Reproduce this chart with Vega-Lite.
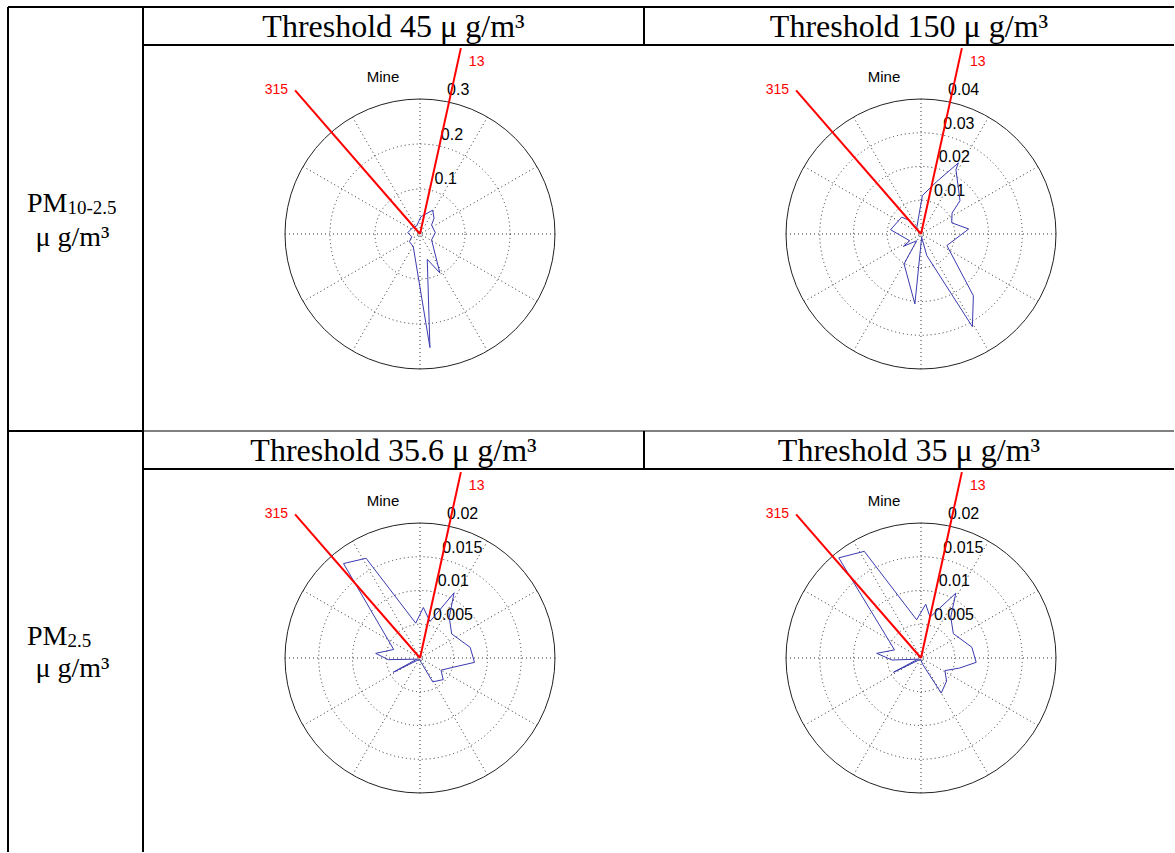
{
"$schema": "https://vega.github.io/schema/vega-lite/v6.json",
"padding": {"left": 7, "top": 6, "right": 0, "bottom": 0},
"background": "white",
"config": {"view": {"stroke": null}},
"datasets": {
"spokes": [{"a":0},{"a":30},{"a":60},{"a":90},{"a":120},{"a":150},{"a":180},{"a":210},{"a":240},{"a":270},{"a":300},{"a":330}],
"dirs": [{"lbl":"13","a":12.4},{"lbl":"315","a":-41}],
"rings": [
{"p":"A1","v":0.1},{"p":"A1","v":0.2},{"p":"A1","v":0.3},
{"p":"B1","v":0.01},{"p":"B1","v":0.02},{"p":"B1","v":0.03},{"p":"B1","v":0.04},
{"p":"A2","v":0.005},{"p":"A2","v":0.01},{"p":"A2","v":0.015},{"p":"A2","v":0.02},
{"p":"B2","v":0.005},{"p":"B2","v":0.01},{"p":"B2","v":0.015},{"p":"B2","v":0.02}
],
"curves": [
{"p":"A1","i":1,"a":3,"v":0.0385},{"p":"A1","i":2,"a":28,"v":0.06},{"p":"A1","i":3,"a":42,"v":0.0467},{"p":"A1","i":4,"a":52,"v":0.0326},{"p":"A1","i":5,"a":85,"v":0.0341},{"p":"A1","i":6,"a":117,"v":0.0289},{"p":"A1","i":7,"a":153,"v":0.097},{"p":"A1","i":8,"a":164,"v":0.0585},{"p":"A1","i":9,"a":175,"v":0.2533},{"p":"A1","i":10,"a":208,"v":0.0319},{"p":"A1","i":11,"a":234,"v":0.0289},{"p":"A1","i":12,"a":252,"v":0.0193},{"p":"A1","i":13,"a":276,"v":0.0274},{"p":"A1","i":14,"a":304,"v":0.0222},{"p":"A1","i":15,"a":337,"v":0.0193},{"p":"A1","i":16,"a":3,"v":0.0385},
{"p":"B1","i":1,"a":2,"v":0.0114},{"p":"B1","i":2,"a":16.7,"v":0.0162},{"p":"B1","i":3,"a":27.7,"v":0.0238},{"p":"B1","i":4,"a":28.5,"v":0.0217},{"p":"B1","i":5,"a":49.5,"v":0.0152},{"p":"B1","i":6,"a":56,"v":0.0111},{"p":"B1","i":7,"a":70,"v":0.0097},{"p":"B1","i":8,"a":84,"v":0.0142},{"p":"B1","i":9,"a":114,"v":0.0084},{"p":"B1","i":10,"a":139.7,"v":0.024},{"p":"B1","i":11,"a":151,"v":0.0314},{"p":"B1","i":12,"a":165,"v":0.0066},{"p":"B1","i":13,"a":169,"v":0.001},{"p":"B1","i":14,"a":185,"v":0.0208},{"p":"B1","i":15,"a":209.5,"v":0.0102},{"p":"B1","i":16,"a":213,"v":0.0024},{"p":"B1","i":17,"a":235,"v":0.0064},{"p":"B1","i":18,"a":239,"v":0.0039},{"p":"B1","i":19,"a":278,"v":0.0091},{"p":"B1","i":20,"a":311,"v":0.0076},{"p":"B1","i":21,"a":318,"v":0.0056},{"p":"B1","i":22,"a":319,"v":0.002},{"p":"B1","i":23,"a":2,"v":0.0114},
{"p":"A2","i":1,"a":353,"v":0.0052},{"p":"A2","i":2,"a":3.8,"v":0.0075},{"p":"A2","i":3,"a":15.3,"v":0.0056},{"p":"A2","i":4,"a":27.6,"v":0.0109},{"p":"A2","i":5,"a":35.8,"v":0.0074},{"p":"A2","i":6,"a":52.8,"v":0.0059},{"p":"A2","i":7,"a":78,"v":0.0076},{"p":"A2","i":8,"a":94.6,"v":0.0081},{"p":"A2","i":9,"a":105,"v":0.0052},{"p":"A2","i":10,"a":120,"v":0.0036},{"p":"A2","i":11,"a":133,"v":0.0047},{"p":"A2","i":12,"a":152,"v":0.004},{"p":"A2","i":13,"a":165,"v":0.0007},{"p":"A2","i":14,"a":200,"v":0.0002},{"p":"A2","i":15,"a":242,"v":0.0045},{"p":"A2","i":16,"a":250,"v":0.0005},{"p":"A2","i":17,"a":267,"v":0.0047},{"p":"A2","i":18,"a":276,"v":0.0066},{"p":"A2","i":19,"a":288,"v":0.0041},{"p":"A2","i":20,"a":321,"v":0.018},{"p":"A2","i":21,"a":331.6,"v":0.0168},{"p":"A2","i":22,"a":353,"v":0.0052},
{"p":"B2","i":1,"a":353.5,"v":0.0057},{"p":"B2","i":2,"a":5,"v":0.008},{"p":"B2","i":3,"a":12.5,"v":0.0062},{"p":"B2","i":4,"a":28.2,"v":0.0109},{"p":"B2","i":5,"a":36,"v":0.0075},{"p":"B2","i":6,"a":53,"v":0.006},{"p":"B2","i":7,"a":78,"v":0.0077},{"p":"B2","i":8,"a":94.5,"v":0.0082},{"p":"B2","i":9,"a":104.6,"v":0.0059},{"p":"B2","i":10,"a":117.8,"v":0.004},{"p":"B2","i":11,"a":132,"v":0.0051},{"p":"B2","i":12,"a":150,"v":0.006},{"p":"B2","i":13,"a":165,"v":0.001},{"p":"B2","i":14,"a":200,"v":0.0002},{"p":"B2","i":15,"a":242.6,"v":0.0046},{"p":"B2","i":16,"a":250,"v":0.0005},{"p":"B2","i":17,"a":266,"v":0.0043},{"p":"B2","i":18,"a":276,"v":0.0066},{"p":"B2","i":19,"a":287,"v":0.0041},{"p":"B2","i":20,"a":320.6,"v":0.0192},{"p":"B2","i":21,"a":332,"v":0.0179},{"p":"B2","i":22,"a":353.5,"v":0.0057}
]
},
"columns": 3,
"spacing": 0,
"bounds": "flush",
"align": "each",
"concat": [
{"width": 135, "height": 38,
 "layer": [
  {"data": {"values": [{}]}, "mark": {"type": "rule", "color": "black", "strokeWidth": 2}, "encoding": {"x": {"datum": 0, "type": "quantitative", "scale": {"domain": [0, 1], "nice": false}, "axis": null}}},
  {"data": {"values": [{}]}, "mark": {"type": "rule", "color": "black", "strokeWidth": 2}, "encoding": {"x": {"datum": 1, "type": "quantitative", "scale": {"domain": [0, 1], "nice": false}, "axis": null}}},
  {"data": {"values": [{}]}, "mark": {"type": "rule", "color": "black", "strokeWidth": 2}, "encoding": {"y": {"datum": 1, "type": "quantitative", "scale": {"domain": [0, 1], "nice": false}, "axis": null}}}
 ]},
{"width": 501, "height": 38,
 "layer": [
  {"data": {"values": [{"t": "Threshold 45 μ g/m³"}]}, "mark": {"type": "text", "font": "Liberation Serif", "fontSize": 32, "baseline": "alphabetic", "dy": 10.5, "color": "black"}, "encoding": {"text": {"field": "t", "type": "nominal"}}},
  {"data": {"values": [{}]}, "mark": {"type": "rule", "color": "black", "strokeWidth": 2}, "encoding": {"y": {"datum": 1, "type": "quantitative", "scale": {"domain": [0, 1], "nice": false}, "axis": null}}},
  {"data": {"values": [{}]}, "mark": {"type": "rule", "color": "black", "strokeWidth": 2}, "encoding": {"y": {"datum": 0, "type": "quantitative", "scale": {"domain": [0, 1], "nice": false}, "axis": null}}},
  {"data": {"values": [{}]}, "mark": {"type": "rule", "color": "black", "strokeWidth": 2}, "encoding": {"x": {"datum": 1, "type": "quantitative", "scale": {"domain": [0, 1], "nice": false}, "axis": null}}}
 ]},
{"width": 530, "height": 38,
 "layer": [
  {"data": {"values": [{"t": "Threshold 150 μ g/m³"}]}, "mark": {"type": "text", "font": "Liberation Serif", "fontSize": 32, "baseline": "alphabetic", "dy": 10.5, "color": "black"}, "encoding": {"text": {"field": "t", "type": "nominal"}}},
  {"data": {"values": [{}]}, "mark": {"type": "rule", "color": "black", "strokeWidth": 2}, "encoding": {"y": {"datum": 1, "type": "quantitative", "scale": {"domain": [0, 1], "nice": false}, "axis": null}}},
  {"data": {"values": [{}]}, "mark": {"type": "rule", "color": "black", "strokeWidth": 2}, "encoding": {"y": {"datum": 0, "type": "quantitative", "scale": {"domain": [0, 1], "nice": false}, "axis": null}}}
 ]},
{"width": 135, "height": 386,
 "layer": [
  {"data": {"values": [{}]}, "mark": {"type": "rule", "color": "black", "strokeWidth": 2}, "encoding": {"x": {"datum": 0, "type": "quantitative", "scale": {"domain": [0, 1], "nice": false}, "axis": null}}},
  {"data": {"values": [{}]}, "mark": {"type": "rule", "color": "black", "strokeWidth": 2}, "encoding": {"x": {"datum": 1, "type": "quantitative", "scale": {"domain": [0, 1], "nice": false}, "axis": null}}},
  {"data": {"values": [{"t": "PM"}]}, "mark": {"type": "text", "font": "Liberation Serif", "fontSize": 28, "align": "right", "baseline": "alphabetic", "dx": -8, "dy": -26, "color": "black"}, "encoding": {"text": {"field": "t", "type": "nominal"}}},
  {"data": {"values": [{"t": "10-2.5"}]}, "mark": {"type": "text", "font": "Liberation Serif", "fontSize": 19, "align": "left", "baseline": "alphabetic", "dx": -8, "dy": -24, "color": "black"}, "encoding": {"text": {"field": "t", "type": "nominal"}}},
  {"data": {"values": [{"t": "μ g/m³"}]}, "mark": {"type": "text", "font": "Liberation Serif", "fontSize": 28, "align": "center", "baseline": "alphabetic", "dx": -3, "dy": 8, "color": "black"}, "encoding": {"text": {"field": "t", "type": "nominal"}}}
 ]},
{"width": 501, "height": 386,
 "layer": [
  {"data": {"name": "spokes"}, "transform": [{"calculate": "sin(datum.a*PI/180)", "as": "sx"}, {"calculate": "cos(datum.a*PI/180)", "as": "sy"}],
   "mark": {"type": "rule", "color": "#333333", "strokeWidth": 1, "strokeDash": [1, 3]},
   "encoding": {"x": {"field": "sx", "type": "quantitative", "scale": {"domain": [-2.0519, 1.6593], "nice": false, "zero": false}, "axis": null}, "y": {"field": "sy", "type": "quantitative", "scale": {"domain": [-1.4593, 1.4], "nice": false, "zero": false}, "axis": null}, "x2": {"datum": 0}, "y2": {"datum": 0}}},
  {"data": {"name": "rings"}, "transform": [{"filter": "datum.p == 'A1' && datum.v < 0.2999"}, {"calculate": "0", "as": "z"}, {"calculate": "datum.v/0.3", "as": "u"}],
   "mark": {"type": "point", "shape": "circle", "filled": false, "opacity": 1, "color": "#333333", "strokeWidth": 1, "strokeDash": [1, 3]},
   "encoding": {"x": {"field": "z", "type": "quantitative", "scale": {"domain": [-2.0519, 1.6593], "nice": false, "zero": false}, "axis": null}, "y": {"field": "z", "type": "quantitative", "scale": {"domain": [-1.4593, 1.4], "nice": false, "zero": false}, "axis": null}, "size": {"field": "u", "type": "quantitative", "scale": {"type": "pow", "exponent": 2, "domain": [0, 1], "range": [0, 72900]}, "legend": null}}},
  {"data": {"name": "rings"}, "transform": [{"filter": "datum.p == 'A1' && datum.v > 0.2999"}, {"calculate": "0", "as": "z"}, {"calculate": "datum.v/0.3", "as": "u"}],
   "mark": {"type": "point", "shape": "circle", "filled": false, "opacity": 1, "color": "#222222", "strokeWidth": 1},
   "encoding": {"x": {"field": "z", "type": "quantitative", "scale": {"domain": [-2.0519, 1.6593], "nice": false, "zero": false}, "axis": null}, "y": {"field": "z", "type": "quantitative", "scale": {"domain": [-1.4593, 1.4], "nice": false, "zero": false}, "axis": null}, "size": {"field": "u", "type": "quantitative", "scale": {"type": "pow", "exponent": 2, "domain": [0, 1], "range": [0, 72900]}, "legend": null}}},
  {"data": {"name": "rings"}, "transform": [{"filter": "datum.p == 'A1'"}, {"calculate": "(datum.v/0.3 + 0.015)*sin(8*PI/180)", "as": "tx"}, {"calculate": "(datum.v/0.3 + 0.015)*cos(8*PI/180)", "as": "ty"}],
   "mark": {"type": "text", "align": "left", "baseline": "bottom", "dx": 8, "font": "Liberation Sans", "fontSize": 16, "color": "black"},
   "encoding": {"x": {"field": "tx", "type": "quantitative", "scale": {"domain": [-2.0519, 1.6593], "nice": false, "zero": false}, "axis": null}, "y": {"field": "ty", "type": "quantitative", "scale": {"domain": [-1.4593, 1.4], "nice": false, "zero": false}, "axis": null}, "text": {"field": "v", "type": "nominal"}}},
  {"data": {"values": [{"t": "Mine", "mx": -0.274, "my": 1.165}]},
   "mark": {"type": "text", "font": "Liberation Sans", "fontSize": 15, "baseline": "middle", "align": "center", "color": "black"},
   "encoding": {"x": {"field": "mx", "type": "quantitative", "scale": {"domain": [-2.0519, 1.6593], "nice": false, "zero": false}, "axis": null}, "y": {"field": "my", "type": "quantitative", "scale": {"domain": [-1.4593, 1.4], "nice": false, "zero": false}, "axis": null}, "text": {"field": "t", "type": "nominal"}}},
  {"data": {"name": "curves"}, "transform": [{"filter": "datum.p == 'A1'"}, {"calculate": "datum.v/0.3*sin(datum.a*PI/180)", "as": "cx"}, {"calculate": "datum.v/0.3*cos(datum.a*PI/180)", "as": "cy"}],
   "mark": {"type": "line", "color": "#3a3ab0", "strokeWidth": 1},
   "encoding": {"x": {"field": "cx", "type": "quantitative", "scale": {"domain": [-2.0519, 1.6593], "nice": false, "zero": false}, "axis": null}, "y": {"field": "cy", "type": "quantitative", "scale": {"domain": [-1.4593, 1.4], "nice": false, "zero": false}, "axis": null}, "order": {"field": "i", "type": "quantitative"}}},
  {"data": {"name": "dirs"}, "transform": [{"calculate": "1.41*sin(datum.a*PI/180)", "as": "ex"}, {"calculate": "1.41*cos(datum.a*PI/180)", "as": "ey"}],
   "mark": {"type": "rule", "color": "#ff0000", "strokeWidth": 2},
   "encoding": {"x": {"field": "ex", "type": "quantitative", "scale": {"domain": [-2.0519, 1.6593], "nice": false, "zero": false}, "axis": null}, "y": {"field": "ey", "type": "quantitative", "scale": {"domain": [-1.4593, 1.4], "nice": false, "zero": false}, "axis": null}, "x2": {"datum": 0}, "y2": {"datum": 0}}},
  {"data": {"name": "dirs"}, "transform": [{"filter": "datum.lbl == '13'"}, {"calculate": "1.41*sin(datum.a*PI/180)", "as": "ex"}, {"calculate": "1.41*cos(datum.a*PI/180)", "as": "ey"}],
   "mark": {"type": "text", "align": "left", "baseline": "middle", "dx": 8, "dy": 14, "font": "Liberation Sans", "fontSize": 14, "color": "#ff0000"},
   "encoding": {"x": {"field": "ex", "type": "quantitative", "scale": {"domain": [-2.0519, 1.6593], "nice": false, "zero": false}, "axis": null}, "y": {"field": "ey", "type": "quantitative", "scale": {"domain": [-1.4593, 1.4], "nice": false, "zero": false}, "axis": null}, "text": {"field": "lbl", "type": "nominal"}}},
  {"data": {"name": "dirs"}, "transform": [{"filter": "datum.lbl == '315'"}, {"calculate": "1.41*sin(datum.a*PI/180)", "as": "ex"}, {"calculate": "1.41*cos(datum.a*PI/180)", "as": "ey"}],
   "mark": {"type": "text", "align": "right", "baseline": "middle", "dx": -7, "font": "Liberation Sans", "fontSize": 14, "color": "#ff0000"},
   "encoding": {"x": {"field": "ex", "type": "quantitative", "scale": {"domain": [-2.0519, 1.6593], "nice": false, "zero": false}, "axis": null}, "y": {"field": "ey", "type": "quantitative", "scale": {"domain": [-1.4593, 1.4], "nice": false, "zero": false}, "axis": null}, "text": {"field": "lbl", "type": "nominal"}}}
 ]},
{"width": 530, "height": 386,
 "layer": [
  {"data": {"name": "spokes"}, "transform": [{"calculate": "sin(datum.a*PI/180)", "as": "sx"}, {"calculate": "cos(datum.a*PI/180)", "as": "sy"}],
   "mark": {"type": "rule", "color": "#333333", "strokeWidth": 1, "strokeDash": [1, 3]},
   "encoding": {"x": {"field": "sx", "type": "quantitative", "scale": {"domain": [-2.0519, 1.8741], "nice": false, "zero": false}, "axis": null}, "y": {"field": "sy", "type": "quantitative", "scale": {"domain": [-1.4593, 1.4], "nice": false, "zero": false}, "axis": null}, "x2": {"datum": 0}, "y2": {"datum": 0}}},
  {"data": {"name": "rings"}, "transform": [{"filter": "datum.p == 'B1' && datum.v < 0.0399"}, {"calculate": "0", "as": "z"}, {"calculate": "datum.v/0.04", "as": "u"}],
   "mark": {"type": "point", "shape": "circle", "filled": false, "opacity": 1, "color": "#333333", "strokeWidth": 1, "strokeDash": [1, 3]},
   "encoding": {"x": {"field": "z", "type": "quantitative", "scale": {"domain": [-2.0519, 1.8741], "nice": false, "zero": false}, "axis": null}, "y": {"field": "z", "type": "quantitative", "scale": {"domain": [-1.4593, 1.4], "nice": false, "zero": false}, "axis": null}, "size": {"field": "u", "type": "quantitative", "scale": {"type": "pow", "exponent": 2, "domain": [0, 1], "range": [0, 72900]}, "legend": null}}},
  {"data": {"name": "rings"}, "transform": [{"filter": "datum.p == 'B1' && datum.v > 0.0399"}, {"calculate": "0", "as": "z"}, {"calculate": "datum.v/0.04", "as": "u"}],
   "mark": {"type": "point", "shape": "circle", "filled": false, "opacity": 1, "color": "#222222", "strokeWidth": 1},
   "encoding": {"x": {"field": "z", "type": "quantitative", "scale": {"domain": [-2.0519, 1.8741], "nice": false, "zero": false}, "axis": null}, "y": {"field": "z", "type": "quantitative", "scale": {"domain": [-1.4593, 1.4], "nice": false, "zero": false}, "axis": null}, "size": {"field": "u", "type": "quantitative", "scale": {"type": "pow", "exponent": 2, "domain": [0, 1], "range": [0, 72900]}, "legend": null}}},
  {"data": {"name": "rings"}, "transform": [{"filter": "datum.p == 'B1'"}, {"calculate": "(datum.v/0.04 + 0.015)*sin(8*PI/180)", "as": "tx"}, {"calculate": "(datum.v/0.04 + 0.015)*cos(8*PI/180)", "as": "ty"}],
   "mark": {"type": "text", "align": "left", "baseline": "bottom", "dx": 8, "font": "Liberation Sans", "fontSize": 16, "color": "black"},
   "encoding": {"x": {"field": "tx", "type": "quantitative", "scale": {"domain": [-2.0519, 1.8741], "nice": false, "zero": false}, "axis": null}, "y": {"field": "ty", "type": "quantitative", "scale": {"domain": [-1.4593, 1.4], "nice": false, "zero": false}, "axis": null}, "text": {"field": "v", "type": "nominal"}}},
  {"data": {"values": [{"t": "Mine", "mx": -0.274, "my": 1.165}]},
   "mark": {"type": "text", "font": "Liberation Sans", "fontSize": 15, "baseline": "middle", "align": "center", "color": "black"},
   "encoding": {"x": {"field": "mx", "type": "quantitative", "scale": {"domain": [-2.0519, 1.8741], "nice": false, "zero": false}, "axis": null}, "y": {"field": "my", "type": "quantitative", "scale": {"domain": [-1.4593, 1.4], "nice": false, "zero": false}, "axis": null}, "text": {"field": "t", "type": "nominal"}}},
  {"data": {"name": "curves"}, "transform": [{"filter": "datum.p == 'B1'"}, {"calculate": "datum.v/0.04*sin(datum.a*PI/180)", "as": "cx"}, {"calculate": "datum.v/0.04*cos(datum.a*PI/180)", "as": "cy"}],
   "mark": {"type": "line", "color": "#3a3ab0", "strokeWidth": 1},
   "encoding": {"x": {"field": "cx", "type": "quantitative", "scale": {"domain": [-2.0519, 1.8741], "nice": false, "zero": false}, "axis": null}, "y": {"field": "cy", "type": "quantitative", "scale": {"domain": [-1.4593, 1.4], "nice": false, "zero": false}, "axis": null}, "order": {"field": "i", "type": "quantitative"}}},
  {"data": {"name": "dirs"}, "transform": [{"calculate": "1.41*sin(datum.a*PI/180)", "as": "ex"}, {"calculate": "1.41*cos(datum.a*PI/180)", "as": "ey"}],
   "mark": {"type": "rule", "color": "#ff0000", "strokeWidth": 2},
   "encoding": {"x": {"field": "ex", "type": "quantitative", "scale": {"domain": [-2.0519, 1.8741], "nice": false, "zero": false}, "axis": null}, "y": {"field": "ey", "type": "quantitative", "scale": {"domain": [-1.4593, 1.4], "nice": false, "zero": false}, "axis": null}, "x2": {"datum": 0}, "y2": {"datum": 0}}},
  {"data": {"name": "dirs"}, "transform": [{"filter": "datum.lbl == '13'"}, {"calculate": "1.41*sin(datum.a*PI/180)", "as": "ex"}, {"calculate": "1.41*cos(datum.a*PI/180)", "as": "ey"}],
   "mark": {"type": "text", "align": "left", "baseline": "middle", "dx": 8, "dy": 14, "font": "Liberation Sans", "fontSize": 14, "color": "#ff0000"},
   "encoding": {"x": {"field": "ex", "type": "quantitative", "scale": {"domain": [-2.0519, 1.8741], "nice": false, "zero": false}, "axis": null}, "y": {"field": "ey", "type": "quantitative", "scale": {"domain": [-1.4593, 1.4], "nice": false, "zero": false}, "axis": null}, "text": {"field": "lbl", "type": "nominal"}}},
  {"data": {"name": "dirs"}, "transform": [{"filter": "datum.lbl == '315'"}, {"calculate": "1.41*sin(datum.a*PI/180)", "as": "ex"}, {"calculate": "1.41*cos(datum.a*PI/180)", "as": "ey"}],
   "mark": {"type": "text", "align": "right", "baseline": "middle", "dx": -7, "font": "Liberation Sans", "fontSize": 14, "color": "#ff0000"},
   "encoding": {"x": {"field": "ex", "type": "quantitative", "scale": {"domain": [-2.0519, 1.8741], "nice": false, "zero": false}, "axis": null}, "y": {"field": "ey", "type": "quantitative", "scale": {"domain": [-1.4593, 1.4], "nice": false, "zero": false}, "axis": null}, "text": {"field": "lbl", "type": "nominal"}}}
 ]},
{"width": 135, "height": 38,
 "layer": [
  {"data": {"values": [{}]}, "mark": {"type": "rule", "color": "black", "strokeWidth": 2}, "encoding": {"x": {"datum": 0, "type": "quantitative", "scale": {"domain": [0, 1], "nice": false}, "axis": null}}},
  {"data": {"values": [{}]}, "mark": {"type": "rule", "color": "black", "strokeWidth": 2}, "encoding": {"x": {"datum": 1, "type": "quantitative", "scale": {"domain": [0, 1], "nice": false}, "axis": null}}},
  {"data": {"values": [{}]}, "mark": {"type": "rule", "color": "black", "strokeWidth": 2}, "encoding": {"y": {"datum": 1, "type": "quantitative", "scale": {"domain": [0, 1], "nice": false}, "axis": null}}}
 ]},
{"width": 501, "height": 38,
 "layer": [
  {"data": {"values": [{"t": "Threshold 35.6 μ g/m³"}]}, "mark": {"type": "text", "font": "Liberation Serif", "fontSize": 32, "baseline": "alphabetic", "dy": 10.5, "color": "black"}, "encoding": {"text": {"field": "t", "type": "nominal"}}},
  {"data": {"values": [{}]}, "mark": {"type": "rule", "color": "black", "strokeWidth": 1}, "encoding": {"y": {"datum": 1, "type": "quantitative", "scale": {"domain": [0, 1], "nice": false}, "axis": null}}},
  {"data": {"values": [{}]}, "mark": {"type": "rule", "color": "black", "strokeWidth": 2}, "encoding": {"y": {"datum": 0, "type": "quantitative", "scale": {"domain": [0, 1], "nice": false}, "axis": null}}},
  {"data": {"values": [{}]}, "mark": {"type": "rule", "color": "black", "strokeWidth": 2}, "encoding": {"x": {"datum": 1, "type": "quantitative", "scale": {"domain": [0, 1], "nice": false}, "axis": null}}}
 ]},
{"width": 530, "height": 38,
 "layer": [
  {"data": {"values": [{"t": "Threshold 35 μ g/m³"}]}, "mark": {"type": "text", "font": "Liberation Serif", "fontSize": 32, "baseline": "alphabetic", "dy": 10.5, "color": "black"}, "encoding": {"text": {"field": "t", "type": "nominal"}}},
  {"data": {"values": [{}]}, "mark": {"type": "rule", "color": "black", "strokeWidth": 1}, "encoding": {"y": {"datum": 1, "type": "quantitative", "scale": {"domain": [0, 1], "nice": false}, "axis": null}}},
  {"data": {"values": [{}]}, "mark": {"type": "rule", "color": "black", "strokeWidth": 2}, "encoding": {"y": {"datum": 0, "type": "quantitative", "scale": {"domain": [0, 1], "nice": false}, "axis": null}}}
 ]},
{"width": 135, "height": 383,
 "layer": [
  {"data": {"values": [{}]}, "mark": {"type": "rule", "color": "black", "strokeWidth": 2}, "encoding": {"x": {"datum": 0, "type": "quantitative", "scale": {"domain": [0, 1], "nice": false}, "axis": null}}},
  {"data": {"values": [{}]}, "mark": {"type": "rule", "color": "black", "strokeWidth": 2}, "encoding": {"x": {"datum": 1, "type": "quantitative", "scale": {"domain": [0, 1], "nice": false}, "axis": null}}},
  {"data": {"values": [{"t": "PM"}]}, "mark": {"type": "text", "font": "Liberation Serif", "fontSize": 28, "align": "right", "baseline": "alphabetic", "dx": -8, "dy": -15.5, "color": "black"}, "encoding": {"text": {"field": "t", "type": "nominal"}}},
  {"data": {"values": [{"t": "2.5"}]}, "mark": {"type": "text", "font": "Liberation Serif", "fontSize": 19, "align": "left", "baseline": "alphabetic", "dx": -8, "dy": -13.5, "color": "black"}, "encoding": {"text": {"field": "t", "type": "nominal"}}},
  {"data": {"values": [{"t": "μ g/m³"}]}, "mark": {"type": "text", "font": "Liberation Serif", "fontSize": 28, "align": "center", "baseline": "alphabetic", "dx": -3, "dy": 16.5, "color": "black"}, "encoding": {"text": {"field": "t", "type": "nominal"}}}
 ]},
{"width": 501, "height": 383,
 "layer": [
  {"data": {"name": "spokes"}, "transform": [{"calculate": "sin(datum.a*PI/180)", "as": "sx"}, {"calculate": "cos(datum.a*PI/180)", "as": "sy"}],
   "mark": {"type": "rule", "color": "#333333", "strokeWidth": 1, "strokeDash": [1, 3]},
   "encoding": {"x": {"field": "sx", "type": "quantitative", "scale": {"domain": [-2.0519, 1.6593], "nice": false, "zero": false}, "axis": null}, "y": {"field": "sy", "type": "quantitative", "scale": {"domain": [-1.437, 1.4], "nice": false, "zero": false}, "axis": null}, "x2": {"datum": 0}, "y2": {"datum": 0}}},
  {"data": {"name": "rings"}, "transform": [{"filter": "datum.p == 'A2' && datum.v < 0.0199"}, {"calculate": "0", "as": "z"}, {"calculate": "datum.v/0.02", "as": "u"}],
   "mark": {"type": "point", "shape": "circle", "filled": false, "opacity": 1, "color": "#333333", "strokeWidth": 1, "strokeDash": [1, 3]},
   "encoding": {"x": {"field": "z", "type": "quantitative", "scale": {"domain": [-2.0519, 1.6593], "nice": false, "zero": false}, "axis": null}, "y": {"field": "z", "type": "quantitative", "scale": {"domain": [-1.437, 1.4], "nice": false, "zero": false}, "axis": null}, "size": {"field": "u", "type": "quantitative", "scale": {"type": "pow", "exponent": 2, "domain": [0, 1], "range": [0, 72900]}, "legend": null}}},
  {"data": {"name": "rings"}, "transform": [{"filter": "datum.p == 'A2' && datum.v > 0.0199"}, {"calculate": "0", "as": "z"}, {"calculate": "datum.v/0.02", "as": "u"}],
   "mark": {"type": "point", "shape": "circle", "filled": false, "opacity": 1, "color": "#222222", "strokeWidth": 1},
   "encoding": {"x": {"field": "z", "type": "quantitative", "scale": {"domain": [-2.0519, 1.6593], "nice": false, "zero": false}, "axis": null}, "y": {"field": "z", "type": "quantitative", "scale": {"domain": [-1.437, 1.4], "nice": false, "zero": false}, "axis": null}, "size": {"field": "u", "type": "quantitative", "scale": {"type": "pow", "exponent": 2, "domain": [0, 1], "range": [0, 72900]}, "legend": null}}},
  {"data": {"name": "rings"}, "transform": [{"filter": "datum.p == 'A2'"}, {"calculate": "(datum.v/0.02 + 0.015)*sin(8*PI/180)", "as": "tx"}, {"calculate": "(datum.v/0.02 + 0.015)*cos(8*PI/180)", "as": "ty"}],
   "mark": {"type": "text", "align": "left", "baseline": "bottom", "dx": 8, "font": "Liberation Sans", "fontSize": 16, "color": "black"},
   "encoding": {"x": {"field": "tx", "type": "quantitative", "scale": {"domain": [-2.0519, 1.6593], "nice": false, "zero": false}, "axis": null}, "y": {"field": "ty", "type": "quantitative", "scale": {"domain": [-1.437, 1.4], "nice": false, "zero": false}, "axis": null}, "text": {"field": "v", "type": "nominal"}}},
  {"data": {"values": [{"t": "Mine", "mx": -0.274, "my": 1.165}]},
   "mark": {"type": "text", "font": "Liberation Sans", "fontSize": 15, "baseline": "middle", "align": "center", "color": "black"},
   "encoding": {"x": {"field": "mx", "type": "quantitative", "scale": {"domain": [-2.0519, 1.6593], "nice": false, "zero": false}, "axis": null}, "y": {"field": "my", "type": "quantitative", "scale": {"domain": [-1.437, 1.4], "nice": false, "zero": false}, "axis": null}, "text": {"field": "t", "type": "nominal"}}},
  {"data": {"name": "curves"}, "transform": [{"filter": "datum.p == 'A2'"}, {"calculate": "datum.v/0.02*sin(datum.a*PI/180)", "as": "cx"}, {"calculate": "datum.v/0.02*cos(datum.a*PI/180)", "as": "cy"}],
   "mark": {"type": "line", "color": "#3a3ab0", "strokeWidth": 1},
   "encoding": {"x": {"field": "cx", "type": "quantitative", "scale": {"domain": [-2.0519, 1.6593], "nice": false, "zero": false}, "axis": null}, "y": {"field": "cy", "type": "quantitative", "scale": {"domain": [-1.437, 1.4], "nice": false, "zero": false}, "axis": null}, "order": {"field": "i", "type": "quantitative"}}},
  {"data": {"name": "dirs"}, "transform": [{"calculate": "1.41*sin(datum.a*PI/180)", "as": "ex"}, {"calculate": "1.41*cos(datum.a*PI/180)", "as": "ey"}],
   "mark": {"type": "rule", "color": "#ff0000", "strokeWidth": 2},
   "encoding": {"x": {"field": "ex", "type": "quantitative", "scale": {"domain": [-2.0519, 1.6593], "nice": false, "zero": false}, "axis": null}, "y": {"field": "ey", "type": "quantitative", "scale": {"domain": [-1.437, 1.4], "nice": false, "zero": false}, "axis": null}, "x2": {"datum": 0}, "y2": {"datum": 0}}},
  {"data": {"name": "dirs"}, "transform": [{"filter": "datum.lbl == '13'"}, {"calculate": "1.41*sin(datum.a*PI/180)", "as": "ex"}, {"calculate": "1.41*cos(datum.a*PI/180)", "as": "ey"}],
   "mark": {"type": "text", "align": "left", "baseline": "middle", "dx": 8, "dy": 14, "font": "Liberation Sans", "fontSize": 14, "color": "#ff0000"},
   "encoding": {"x": {"field": "ex", "type": "quantitative", "scale": {"domain": [-2.0519, 1.6593], "nice": false, "zero": false}, "axis": null}, "y": {"field": "ey", "type": "quantitative", "scale": {"domain": [-1.437, 1.4], "nice": false, "zero": false}, "axis": null}, "text": {"field": "lbl", "type": "nominal"}}},
  {"data": {"name": "dirs"}, "transform": [{"filter": "datum.lbl == '315'"}, {"calculate": "1.41*sin(datum.a*PI/180)", "as": "ex"}, {"calculate": "1.41*cos(datum.a*PI/180)", "as": "ey"}],
   "mark": {"type": "text", "align": "right", "baseline": "middle", "dx": -7, "font": "Liberation Sans", "fontSize": 14, "color": "#ff0000"},
   "encoding": {"x": {"field": "ex", "type": "quantitative", "scale": {"domain": [-2.0519, 1.6593], "nice": false, "zero": false}, "axis": null}, "y": {"field": "ey", "type": "quantitative", "scale": {"domain": [-1.437, 1.4], "nice": false, "zero": false}, "axis": null}, "text": {"field": "lbl", "type": "nominal"}}}
 ]},
{"width": 530, "height": 383,
 "layer": [
  {"data": {"name": "spokes"}, "transform": [{"calculate": "sin(datum.a*PI/180)", "as": "sx"}, {"calculate": "cos(datum.a*PI/180)", "as": "sy"}],
   "mark": {"type": "rule", "color": "#333333", "strokeWidth": 1, "strokeDash": [1, 3]},
   "encoding": {"x": {"field": "sx", "type": "quantitative", "scale": {"domain": [-2.0519, 1.8741], "nice": false, "zero": false}, "axis": null}, "y": {"field": "sy", "type": "quantitative", "scale": {"domain": [-1.437, 1.4], "nice": false, "zero": false}, "axis": null}, "x2": {"datum": 0}, "y2": {"datum": 0}}},
  {"data": {"name": "rings"}, "transform": [{"filter": "datum.p == 'B2' && datum.v < 0.0199"}, {"calculate": "0", "as": "z"}, {"calculate": "datum.v/0.02", "as": "u"}],
   "mark": {"type": "point", "shape": "circle", "filled": false, "opacity": 1, "color": "#333333", "strokeWidth": 1, "strokeDash": [1, 3]},
   "encoding": {"x": {"field": "z", "type": "quantitative", "scale": {"domain": [-2.0519, 1.8741], "nice": false, "zero": false}, "axis": null}, "y": {"field": "z", "type": "quantitative", "scale": {"domain": [-1.437, 1.4], "nice": false, "zero": false}, "axis": null}, "size": {"field": "u", "type": "quantitative", "scale": {"type": "pow", "exponent": 2, "domain": [0, 1], "range": [0, 72900]}, "legend": null}}},
  {"data": {"name": "rings"}, "transform": [{"filter": "datum.p == 'B2' && datum.v > 0.0199"}, {"calculate": "0", "as": "z"}, {"calculate": "datum.v/0.02", "as": "u"}],
   "mark": {"type": "point", "shape": "circle", "filled": false, "opacity": 1, "color": "#222222", "strokeWidth": 1},
   "encoding": {"x": {"field": "z", "type": "quantitative", "scale": {"domain": [-2.0519, 1.8741], "nice": false, "zero": false}, "axis": null}, "y": {"field": "z", "type": "quantitative", "scale": {"domain": [-1.437, 1.4], "nice": false, "zero": false}, "axis": null}, "size": {"field": "u", "type": "quantitative", "scale": {"type": "pow", "exponent": 2, "domain": [0, 1], "range": [0, 72900]}, "legend": null}}},
  {"data": {"name": "rings"}, "transform": [{"filter": "datum.p == 'B2'"}, {"calculate": "(datum.v/0.02 + 0.015)*sin(8*PI/180)", "as": "tx"}, {"calculate": "(datum.v/0.02 + 0.015)*cos(8*PI/180)", "as": "ty"}],
   "mark": {"type": "text", "align": "left", "baseline": "bottom", "dx": 8, "font": "Liberation Sans", "fontSize": 16, "color": "black"},
   "encoding": {"x": {"field": "tx", "type": "quantitative", "scale": {"domain": [-2.0519, 1.8741], "nice": false, "zero": false}, "axis": null}, "y": {"field": "ty", "type": "quantitative", "scale": {"domain": [-1.437, 1.4], "nice": false, "zero": false}, "axis": null}, "text": {"field": "v", "type": "nominal"}}},
  {"data": {"values": [{"t": "Mine", "mx": -0.274, "my": 1.165}]},
   "mark": {"type": "text", "font": "Liberation Sans", "fontSize": 15, "baseline": "middle", "align": "center", "color": "black"},
   "encoding": {"x": {"field": "mx", "type": "quantitative", "scale": {"domain": [-2.0519, 1.8741], "nice": false, "zero": false}, "axis": null}, "y": {"field": "my", "type": "quantitative", "scale": {"domain": [-1.437, 1.4], "nice": false, "zero": false}, "axis": null}, "text": {"field": "t", "type": "nominal"}}},
  {"data": {"name": "curves"}, "transform": [{"filter": "datum.p == 'B2'"}, {"calculate": "datum.v/0.02*sin(datum.a*PI/180)", "as": "cx"}, {"calculate": "datum.v/0.02*cos(datum.a*PI/180)", "as": "cy"}],
   "mark": {"type": "line", "color": "#3a3ab0", "strokeWidth": 1},
   "encoding": {"x": {"field": "cx", "type": "quantitative", "scale": {"domain": [-2.0519, 1.8741], "nice": false, "zero": false}, "axis": null}, "y": {"field": "cy", "type": "quantitative", "scale": {"domain": [-1.437, 1.4], "nice": false, "zero": false}, "axis": null}, "order": {"field": "i", "type": "quantitative"}}},
  {"data": {"name": "dirs"}, "transform": [{"calculate": "1.41*sin(datum.a*PI/180)", "as": "ex"}, {"calculate": "1.41*cos(datum.a*PI/180)", "as": "ey"}],
   "mark": {"type": "rule", "color": "#ff0000", "strokeWidth": 2},
   "encoding": {"x": {"field": "ex", "type": "quantitative", "scale": {"domain": [-2.0519, 1.8741], "nice": false, "zero": false}, "axis": null}, "y": {"field": "ey", "type": "quantitative", "scale": {"domain": [-1.437, 1.4], "nice": false, "zero": false}, "axis": null}, "x2": {"datum": 0}, "y2": {"datum": 0}}},
  {"data": {"name": "dirs"}, "transform": [{"filter": "datum.lbl == '13'"}, {"calculate": "1.41*sin(datum.a*PI/180)", "as": "ex"}, {"calculate": "1.41*cos(datum.a*PI/180)", "as": "ey"}],
   "mark": {"type": "text", "align": "left", "baseline": "middle", "dx": 8, "dy": 14, "font": "Liberation Sans", "fontSize": 14, "color": "#ff0000"},
   "encoding": {"x": {"field": "ex", "type": "quantitative", "scale": {"domain": [-2.0519, 1.8741], "nice": false, "zero": false}, "axis": null}, "y": {"field": "ey", "type": "quantitative", "scale": {"domain": [-1.437, 1.4], "nice": false, "zero": false}, "axis": null}, "text": {"field": "lbl", "type": "nominal"}}},
  {"data": {"name": "dirs"}, "transform": [{"filter": "datum.lbl == '315'"}, {"calculate": "1.41*sin(datum.a*PI/180)", "as": "ex"}, {"calculate": "1.41*cos(datum.a*PI/180)", "as": "ey"}],
   "mark": {"type": "text", "align": "right", "baseline": "middle", "dx": -7, "font": "Liberation Sans", "fontSize": 14, "color": "#ff0000"},
   "encoding": {"x": {"field": "ex", "type": "quantitative", "scale": {"domain": [-2.0519, 1.8741], "nice": false, "zero": false}, "axis": null}, "y": {"field": "ey", "type": "quantitative", "scale": {"domain": [-1.437, 1.4], "nice": false, "zero": false}, "axis": null}, "text": {"field": "lbl", "type": "nominal"}}}
 ]}
]
}
